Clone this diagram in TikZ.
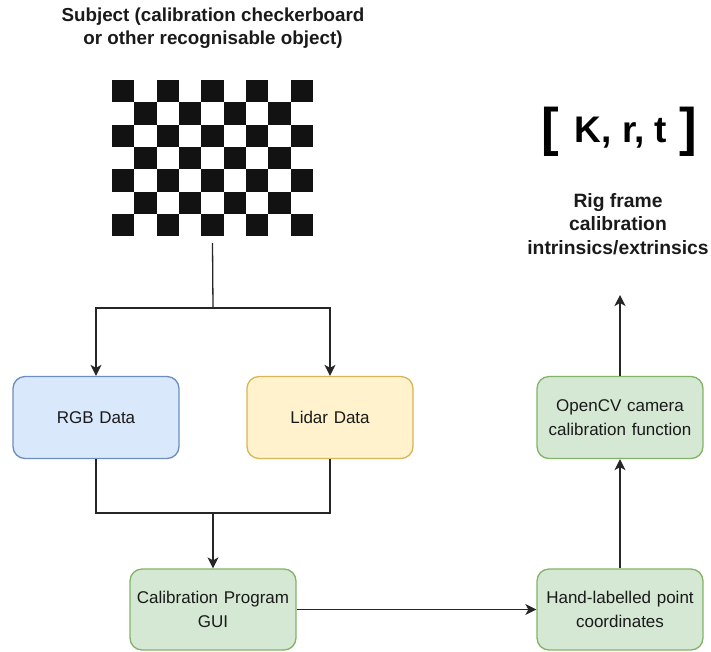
\documentclass[tikz,border=0pt]{standalone}
\usepackage{fontspec}
\setmainfont{Liberation Sans}
\usetikzlibrary{arrows.meta,calc}

\definecolor{blueFill}{HTML}{DAE8FC}
\definecolor{blueLine}{HTML}{6C8EBF}
\definecolor{yellowFill}{HTML}{FFF2CC}
\definecolor{yellowLine}{HTML}{D6B656}
\definecolor{greenFill}{HTML}{D5E8D4}
\definecolor{greenLine}{HTML}{82B366}
\definecolor{inkGrey}{HTML}{1A1A1A}
\definecolor{wireGrey}{HTML}{262626}

\tikzset{
  procbox/.style={rounded corners=12pt, line width=1.3pt, minimum width=166pt,
    minimum height=82pt, align=center, text width=160pt, inner sep=2pt, text=inkGrey,
    font=\fontsize{17}{24}\selectfont},
  rgbbox/.style={procbox, fill=blueFill, draw=blueLine},
  lidarbox/.style={procbox, fill=yellowFill, draw=yellowLine},
  stagebox/.style={procbox, fill=greenFill, draw=greenLine},
  wire/.style={line width=1.3pt, draw=wireGrey},
  arrowwire/.style={wire, -{Stealth[length=11pt, width=11pt, inset=3pt]}},
  heading/.style={align=center, text=inkGrey, inner sep=0pt,
    font=\bfseries\fontsize{18.8}{23}\selectfont},
}

\begin{document}
\begin{tikzpicture}[x=1pt, y=-1pt]
\useasboundingbox (0,0) rectangle (711,651);

% title above the checkerboard
\node[heading] (title) at (213,28)
  {Subject (calibration checkerboard\\or other recognisable object)};

% checkerboard: 9 columns by 7 rows
\def\sq{22.33}
\foreach \c in {0,...,8}{
  \foreach \r in {0,...,6}{
    \pgfmathtruncatemacro{\parity}{mod(\c+\r,2)}
    \ifnum\parity=0
      \fill[black!93] ({112+\c*\sq},{80+\r*\sq}) rectangle ++(\sq,\sq);
    \fi
  }
}
\node[minimum width=201pt, minimum height=163pt, inner sep=0pt] (board) at (212.5,161.5) {};

% processing boxes
\node[rgbbox]   (rgb)    at (96,417.5)  {RGB Data};
\node[lidarbox] (lidar)  at (330,417.5) {Lidar Data};
\node[stagebox, minimum height=81pt] (gui) at (213,609.5) {Calibration Program\\GUI};
\node[stagebox, minimum height=81pt] (hand) at (620,609.5) {Hand-labelled point\\coordinates};
\node[stagebox] (opencv) at (620,417.5) {OpenCV camera\\calibration function};

% calibration result
\node[inner sep=0pt, text=black, font=\bfseries\fontsize{37}{40}\selectfont] (krt) at (621,133) {K, r, t};
\node[inner sep=0pt, text=black, font=\bfseries\fontsize{53}{56}\selectfont] (lbr) at (550,132) {[};
\node[inner sep=0pt, text=black, font=\bfseries\fontsize{53}{56}\selectfont] (rbr) at (688,132) {]};
\node[heading, font=\bfseries\fontsize{19.3}{23.5}\selectfont] (rig) at (618,224)
  {Rig frame\\calibration\\intrinsics/extrinsics};
\coordinate (result) at (620,295);

% connectors
\coordinate (split) at (213,308);
\coordinate (merge) at (213,513);
\draw[wire] (board.south) -- (split);
\draw[arrowwire] (split) -| (rgb.north);
\draw[arrowwire] (split) -| (lidar.north);
\draw[wire] (rgb.south) |- (merge);
\draw[wire] (lidar.south) |- (merge);
\draw[arrowwire] (merge) -- (gui.north);
\draw[arrowwire] (gui.east) -- (hand.west);
\draw[arrowwire] (hand.north) -- (opencv.south);
\draw[arrowwire] (opencv.north) -- (result);
\end{tikzpicture}
\end{document}
